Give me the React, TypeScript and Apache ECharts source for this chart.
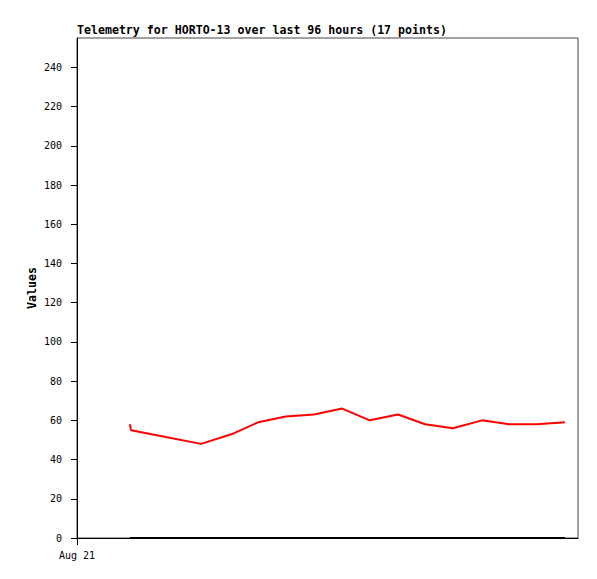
import React, { useEffect, useRef } from "react";
import * as echarts from "echarts";

// hours since Aug 21 00:00
const hours = [10.1, 10.35, 17.0, 23.76, 29.7, 34.7, 40.0, 45.4, 50.8, 56.1, 61.5, 66.7, 72.0, 77.6, 82.8, 88.1, 93.5];
const values = [58, 55, 51.5, 48, 53, 59, 62, 63, 66, 60, 63, 58, 56, 60, 58, 58, 59];
const baseline = [0, 0, 0, 0, 0, 0, 0, 0, 0, 0, 0, 0, 0, 0, 0, 0, 0];
const xTickLabels = ["Aug 21"];
const titleText = "Telemetry for HORTO-13 over last 96 hours (17 points)";

const FONT = "'DejaVu Sans Mono', monospace";

export default function App() {
  const ref = useRef<HTMLDivElement>(null);
  useEffect(() => {
    if (!ref.current) return;
    const chart = echarts.init(ref.current, null, { renderer: "svg" });
    chart.setOption({
      animation: false,
      backgroundColor: "#ffffff",
      title: {
        text: titleText,
        left: 77,
        top: 24,
        padding: 0,
        textStyle: { fontFamily: FONT, fontSize: 11.6, fontWeight: "bold", color: "#000" },
      },
      grid: {
        left: 77,
        top: 38,
        right: 19,
        bottom: 41,
        show: true,
        borderColor: "#444",
        borderWidth: 1,
        containLabel: false,
      },
      xAxis: {
        type: "value",
        min: 0,
        max: 96,
        splitLine: { show: false },
        axisLine: { show: true, lineStyle: { color: "#000", width: 1 } },
        axisTick: { show: true, length: 7, lineStyle: { color: "#000" }, customValues: [0] },
        axisLabel: {
          customValues: [0],
          margin: 12,
          color: "#000",
          fontFamily: FONT,
          fontSize: 10,
          formatter: (v: number) => (v === 0 ? xTickLabels[0] : ""),
        },
      },
      yAxis: {
        type: "value",
        min: 0,
        max: 255,
        interval: 20,
        name: "Values",
        nameLocation: "middle",
        nameGap: 39,
        nameMoveOverlap: false,
        nameTextStyle: { fontFamily: FONT, fontSize: 11.6, fontWeight: "bold", color: "#000" },
        splitLine: { show: false },
        axisLine: { show: true, lineStyle: { color: "#000", width: 1 } },
        axisTick: { show: true, length: 6, lineStyle: { color: "#000" } },
        axisLabel: { margin: 15, color: "#000", fontFamily: FONT, fontSize: 10, showMaxLabel: false },
      },
      series: [
        {
          type: "line",
          data: hours.map((h, i) => [h, baseline[i]]),
          showSymbol: false,
          lineStyle: { color: "#000", width: 2 },
          itemStyle: { color: "#000" },
          z: 3,
        },
        {
          type: "line",
          data: hours.map((h, i) => [h, values[i]]),
          showSymbol: false,
          lineStyle: { color: "#ff0000", width: 2 },
          itemStyle: { color: "#ff0000" },
          z: 4,
        },
      ],
    });
    return () => chart.dispose();
  }, []);
  return <div ref={ref} style={{ position: "fixed", left: 0, top: 0, width: 597, height: 579 }} />;
}
